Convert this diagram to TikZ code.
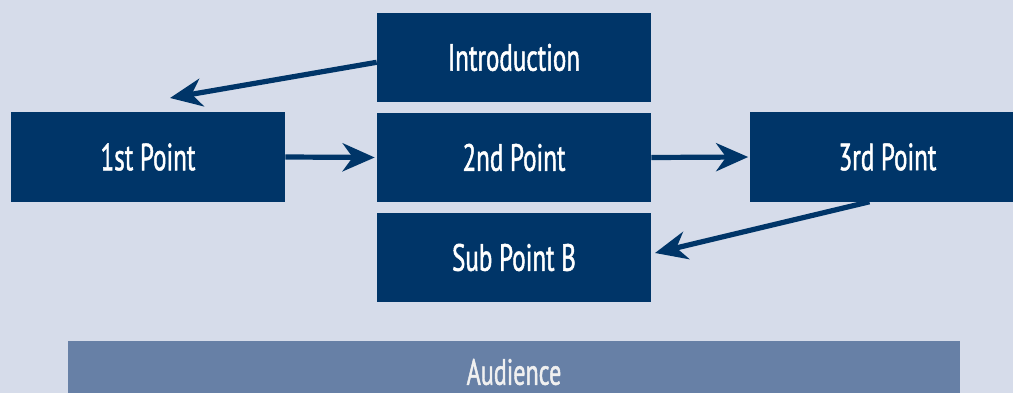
\documentclass[tikz,border=0pt]{standalone}
\usepackage{fontspec}
\setmainfont[FakeStretch=0.66,FakeBold=1.2]{PT Sans}
\usetikzlibrary{arrows.meta}
\definecolor{navy}{RGB}{0,53,104}
\definecolor{paleblue}{RGB}{214,220,234}
\definecolor{midblue}{RGB}{103,128,166}
\begin{document}
\begin{tikzpicture}[
    x=0.025cm,y=-0.025cm,
    >={Stealth[length=8mm,width=7mm,inset=2.5mm]},
    box/.style={rectangle,fill=navy,text=white,inner sep=0,minimum width=6.85cm,minimum height=2.225cm,font=\fontsize{27}{27}\selectfont},
    bar/.style={rectangle,fill=midblue,text=white!94!black,inner sep=0,minimum width=22.3cm,minimum height=1.55cm,font=\fontsize{26}{26}\selectfont},
    link/.style={->,navy,line width=1.3mm}
    ]
    % background
    \clip (0,0) rectangle (1013,393);
    \fill[paleblue] (0,0) rectangle (1013,393);

    % boxes
    \node[box] (intro) at (514,57.5) {Introduction};
    \node[box] (first) at (148,157) {1st Point};
    \node[box] (second) at (514,157.5) {2nd Point};
    \node[box] (third) at (887.5,157) {3rd Point};
    \node[box] (subb) at (514,257.5) {Sub Point B};

    % audience
    \node[bar] (aud) at (514,372) {Audience};

    % free arrow ends
    \coordinate (introtip) at (170,98);
    \coordinate (subtip) at (655,253);

    % arrows
    \draw [link] (intro.182) to (introtip);
    \draw [link,shorten >=0.05cm] (first.east) to (second.west);
    \draw [link,shorten >=0.05cm] (second.east) to (third.west);
    \draw [link] (third.248) to (subtip);
  \end{tikzpicture}
\end{document}
